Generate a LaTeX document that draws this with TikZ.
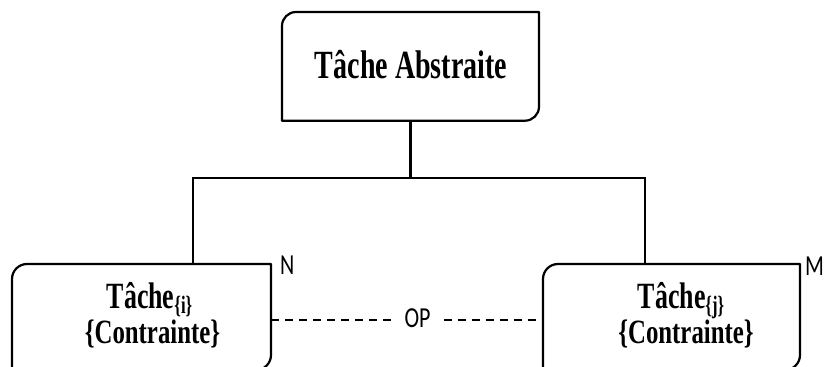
\documentclass[tikz,border=0pt]{standalone}
\usepackage{fontspec}
\setmainfont{Liberation Serif}
\newfontfamily\labfont{Carlito}
\usetikzlibrary{calc}
\newcommand{\squish}[2][0.70]{\scalebox{#1}[1]{#2}}
\newcommand{\halfround}[2]{%
  \draw[boxline] (#1.south west) -- ([yshift=-#2]#1.north west)
    arc[start angle=180,end angle=90,radius=#2] -- (#1.north east)
    -- ([yshift=#2]#1.south east)
    arc[start angle=0,end angle=-90,radius=#2] -- cycle;}
\tikzset{
  boxline/.style={line width=2.2pt, line join=round},
  wire/.style={line width=2.1pt},
  dashline/.style={line width=1.8pt, dash pattern=on 8pt off 6pt},
  holder/.style={draw=none, inner sep=0pt, outer sep=0pt},
  toptext/.style={font=\bfseries\fontsize{40}{40}\selectfont, inner sep=0pt, anchor=base},
  ttexta/.style={font=\bfseries\fontsize{37}{37}\selectfont, inner sep=0pt, anchor=base},
  ttextb/.style={font=\bfseries\fontsize{34}{34}\selectfont, inner sep=0pt, anchor=base},
  lab/.style={font=\labfont\fontsize{29}{29}\selectfont, inner sep=0pt, anchor=base west},
}
\newcommand{\subidx}[1]{\raisebox{-5pt}[\height][0pt]{\scalebox{0.95}[1]{\fontsize{25}{25}\selectfont\{#1\}}}}
\begin{document}
\begin{tikzpicture}[x=1pt,y=1pt]
\useasboundingbox (0,0) rectangle (831,367);
\clip (0,0) rectangle (831,367);
% boxes
\node[holder, minimum width=257pt, minimum height=108.7pt] (top) at (410.5,300.65) {};
\node[holder, minimum width=259pt, minimum height=106pt] (lbox) at (141.5,50) {};
\node[holder, minimum width=257pt, minimum height=106pt] (rbox) at (671.5,50) {};
\halfround{top}{14pt}
\halfround{lbox}{15pt}
\halfround{rbox}{15pt}
% texts
\node[toptext] (toptxt) at (411,288) {\squish{Tâche Abstraite}};
\node[ttexta] (l1) at (149.5,58) {\squish{Tâche\subidx{i}}};
\node[ttextb] (l2) at (152.5,23) {\squish[0.73]{\{Contrainte\}}};
\node[ttexta] (r1) at (681,58) {\squish{Tâche\subidx{j}}};
\node[ttextb] (r2) at (686,23) {\squish[0.73]{\{Contrainte\}}};
% connectors
\coordinate (jl) at (193,189);
\coordinate (jr) at (645,189);
\draw[wire] (top.south) -- (top.south |- jl);
\draw[wire] (lbox.north -| jl) -- (jl) -- (jr) -- (rbox.north -| jr);
% OP
\node[lab, anchor=center, text height=18pt, text depth=4pt, inner xsep=13pt, inner ysep=0pt] (op) at (417.5,46.6) {\squish[0.76]{OP}};
\draw[dashline] (lbox.east |- op) -- (op.west);
\draw[dashline] (op.east) -- (op.east -| rbox.west);
% multiplicities
\node[lab] (N) at (280,92) {\squish[0.76]{N}};
\node[lab] (M) at (805,91) {\squish[0.76]{M}};
\end{tikzpicture}
\end{document}
